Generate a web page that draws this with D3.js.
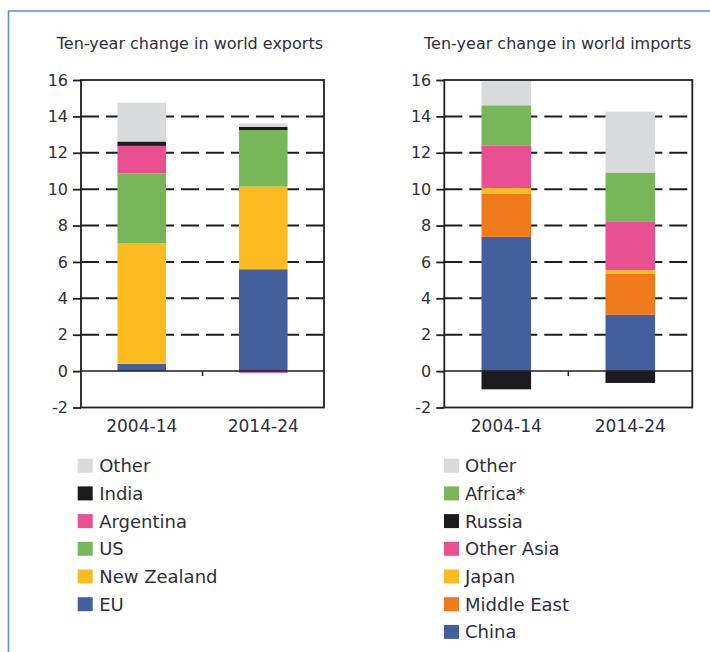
<!DOCTYPE html>
<html>
<head>
<meta charset="utf-8">
<script src="https://cdn.jsdelivr.net/npm/d3@7"></script>
<style>
  body { margin: 0; background: #fff; }
  text { font-family: "DejaVu Sans", sans-serif; fill: #2e2e3c; }
</style>
</head>
<body>
<svg id="chart" width="710" height="652"></svg>
<script>
// categories and ticks
var periods = ["2004-14", "2014-24"];
var yTicks = [-2, 0, 2, 4, 6, 8, 10, 12, 14, 16];

// exports (stack order, bottom up)
var exportKeys = ["EU", "New Zealand", "US", "Argentina", "India", "Other"];
var expEU = [0.4, 5.6];
var expNewZealand = [6.63, 4.55];
var expUS = [3.83, 3.1];
var expArgentina = [1.52, -0.1];
var expIndia = [0.24, 0.18];
var expOther = [2.13, 0.19];

// imports (stack order, bottom up)
var importKeys = ["China", "Middle East", "Japan", "Other Asia", "Russia", "Africa*", "Other"];
var impChina = [7.38, 3.1];
var impMiddleEast = [2.38, 2.25];
var impJapan = [0.3, 0.2];
var impOtherAsia = [2.35, 2.65];
var impRussia = [-1.0, -0.65];
var impAfrica = [2.2, 2.71];
var impOther = [1.33, 3.35];

var colors = {
  "Other": "#d9dadc",
  "India": "#1b1b1f",
  "Russia": "#1b1b1f",
  "Argentina": "#e75192",
  "Other Asia": "#e75192",
  "US": "#78b759",
  "Africa*": "#78b759",
  "New Zealand": "#fbbb21",
  "Japan": "#fbbb21",
  "Middle East": "#ef7a1c",
  "EU": "#43609d",
  "China": "#43609d"
};

function rows(keys, series) {
  return periods.map(function(p, i) {
    var r = { period: p };
    keys.forEach(function(k, j) { r[k] = series[j][i]; });
    return r;
  });
}

var exportRows = rows(exportKeys, [expEU, expNewZealand, expUS, expArgentina, expIndia, expOther]);
var importRows = rows(importKeys, [impChina, impMiddleEast, impJapan, impOtherAsia, impRussia, impAfrica, impOther]);

var svg = d3.select("#chart");

// outer border (left and top only are visible)
svg.append("path")
  .attr("d", "M8.5,652V11H710")
  .attr("fill", "none")
  .attr("stroke", "#5f8fd3")
  .attr("stroke-width", 1.6);

var y = d3.scaleLinear().domain([-2, 16]).range([407.5, 80]);

function panel(opts) {
  var x = d3.scaleBand().domain(periods)
    .range([opts.x0, opts.x1])
    .paddingInner(0.6).paddingOuter(0.3);

  var g = svg.append("g");

  // title
  g.append("text")
    .attr("x", opts.x1 - 1)
    .attr("y", 49)
    .attr("text-anchor", "end")
    .style("font-size", "16px")
    .text(opts.title);

  // dashed grid
  g.append("g").selectAll("line")
    .data(yTicks.filter(function(d) { return d > 0 && d < 16; }))
    .enter().append("line")
    .attr("x1", opts.x0).attr("x2", opts.x1)
    .attr("y1", function(d) { return y(d); })
    .attr("y2", function(d) { return y(d); })
    .attr("stroke", "#1f1f1f")
    .attr("stroke-width", 2)
    .attr("stroke-dasharray", "18,7");

  // stacked bars
  var stack = d3.stack().keys(opts.keys).offset(d3.stackOffsetDiverging);
  var layers = stack(opts.data);

  g.append("g").selectAll("g")
    .data(layers)
    .enter().append("g")
    .attr("fill", function(d) { return colors[d.key]; })
    .selectAll("rect")
    .data(function(d) { return d; })
    .enter().append("rect")
    .attr("x", function(d) { return x(d.data.period); })
    .attr("width", x.bandwidth())
    .attr("y", function(d) { return y(Math.max(d[0], d[1])); })
    .attr("height", function(d) { return Math.abs(y(d[0]) - y(d[1])); });

  // zero line
  g.append("line")
    .attr("x1", opts.x0).attr("x2", opts.x1)
    .attr("y1", y(0)).attr("y2", y(0))
    .attr("stroke", "#1f1f1f")
    .attr("stroke-width", 1.5);

  // small tick between categories
  var mid = (opts.x0 + opts.x1) / 2;
  g.append("line")
    .attr("x1", mid).attr("x2", mid)
    .attr("y1", y(0)).attr("y2", y(0) + 5)
    .attr("stroke", "#1f1f1f")
    .attr("stroke-width", 1.5);

  // frame
  g.append("rect")
    .attr("x", opts.x0).attr("y", y(16))
    .attr("width", opts.x1 - opts.x0)
    .attr("height", y(-2) - y(16))
    .attr("fill", "none")
    .attr("stroke", "#1f1f1f")
    .attr("stroke-width", 1.8);

  // y axis
  var ax = g.append("g")
    .attr("transform", "translate(" + opts.x0 + ",0)")
    .call(d3.axisLeft(y).tickValues(yTicks).tickSize(8).tickPadding(5)
      .tickFormat(function(d) { return String(d); }));
  ax.select(".domain").remove();
  ax.selectAll(".tick line").attr("stroke", "#1f1f1f").attr("stroke-width", 1.8);
  ax.selectAll(".tick text")
    .style("font-size", "16px")
    .style("font-family", "\"DejaVu Sans\", sans-serif")
    .attr("fill", "#2e2e3c");

  // x labels
  g.append("g").selectAll("text")
    .data(periods)
    .enter().append("text")
    .attr("x", function(d) { return x(d) + x.bandwidth() / 2; })
    .attr("y", 432)
    .attr("text-anchor", "middle")
    .style("font-size", "17px")
    .text(function(d) { return d; });

  // legend
  var legendKeys = opts.keys.slice().reverse();
  var lg = g.append("g").selectAll("g")
    .data(legendKeys)
    .enter().append("g")
    .attr("transform", function(d, i) {
      return "translate(" + opts.legendX + "," + (465.7 + i * 27.7) + ")";
    });
  lg.append("rect")
    .attr("x", 0).attr("y", -7)
    .attr("width", 15).attr("height", 14)
    .attr("fill", function(d) { return colors[d]; });
  lg.append("text")
    .attr("x", opts.legendText)
    .attr("y", 6.5)
    .style("font-size", "18px")
    .text(function(d) { return d; });
}

panel({
  title: "Ten-year change in world exports",
  keys: exportKeys,
  data: exportRows,
  x0: 81, x1: 324,
  legendX: 77.7, legendText: 21.5
});

panel({
  title: "Ten-year change in world imports",
  keys: importKeys,
  data: importRows,
  x0: 444.3, x1: 692.3,
  legendX: 444, legendText: 21
});
</script>
</body>
</html>
